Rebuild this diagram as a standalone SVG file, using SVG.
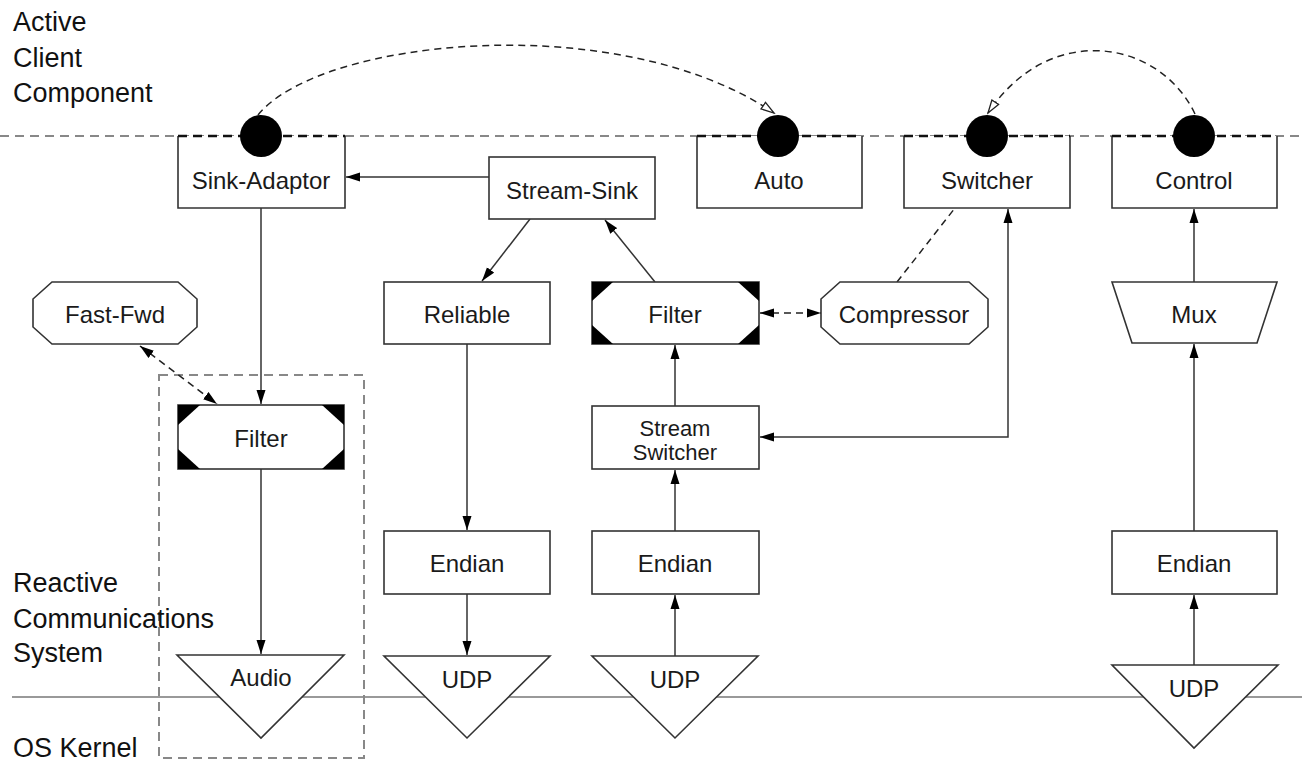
<svg xmlns="http://www.w3.org/2000/svg" width="1302" height="765" viewBox="0 0 1302 765">
<style>
  .bg { fill: #ffffff; }
  .box { fill: #ffffff; stroke: #333333; stroke-width: 1.6; }
  .lbl { font-family: "Liberation Sans", Arial, sans-serif; font-size: 24px; fill: #1a1a1a; text-anchor: middle; }
  .lbl2 { font-family: "Liberation Sans", Arial, sans-serif; font-size: 22px; fill: #1a1a1a; text-anchor: middle; }
  .side { font-family: "Liberation Sans", Arial, sans-serif; font-size: 27px; fill: #111111; }
  .conn { fill: none; stroke: #333333; stroke-width: 1.5; }
  .dash { fill: none; stroke: #222222; stroke-width: 1.5; stroke-dasharray: 7 5; }
  .layer-dash { fill: none; stroke: #888888; stroke-width: 2; stroke-dasharray: 9 6; }
  .layer { fill: none; stroke: #999999; stroke-width: 2; }
  .corner { fill: #000000; }
  .port { fill: #000000; }
  .topdash { stroke: #111111; stroke-width: 2.5; stroke-dasharray: 9 6; }
</style>
<defs>
  <marker id="arr" markerUnits="userSpaceOnUse" markerWidth="15" markerHeight="10" refX="14" refY="4.5" orient="auto-start-reverse" viewBox="0 0 15 9">
    <path d="M0,0 L14,4.5 L0,9 z" fill="#000000"/>
  </marker>
  <marker id="open" markerUnits="userSpaceOnUse" markerWidth="16" markerHeight="12" refX="14" refY="5" orient="auto" viewBox="0 0 16 10">
    <path d="M1,1 L14,5 L1,9 z" fill="#ffffff" stroke="#222222" stroke-width="1.3"/>
  </marker>
</defs>
<rect class="bg" x="0" y="0" width="1302" height="765"/>

<!-- layer lines and labels -->
<g id="layers">
  <line class="layer-dash" x1="0" y1="136" x2="1302" y2="136"/>
  <line class="layer" x1="12" y1="697" x2="1302" y2="697"/>
  <rect class="layer-dash" x="159" y="375" width="205" height="383"/>
  <text class="side" x="13" y="31">Active</text>
  <text class="side" x="13" y="67">Client</text>
  <text class="side" x="13" y="102">Component</text>
  <text class="side" x="13" y="592">Reactive</text>
  <text class="side" x="13" y="628">Communications</text>
  <text class="side" x="13" y="662">System</text>
  <text class="side" x="13" y="757">OS Kernel</text>
</g>

<!-- connectors -->
<g id="connectors">
  <path class="conn" d="M489 177 H346" marker-end="url(#arr)"/>
  <path class="conn" d="M261 208 V404" marker-end="url(#arr)"/>
  <path class="conn" d="M261 469 V654" marker-end="url(#arr)"/>
  <path class="dash" d="M140 346 L217 404" marker-start="url(#arr)" marker-end="url(#arr)"/>
  <path class="conn" d="M530 219 L482 281" marker-end="url(#arr)"/>
  <path class="conn" d="M655 282 L605 220" marker-end="url(#arr)"/>
  <path class="conn" d="M467 344 V530" marker-end="url(#arr)"/>
  <path class="conn" d="M467 594 V655" marker-end="url(#arr)"/>
  <path class="conn" d="M675 656 V595" marker-end="url(#arr)"/>
  <path class="conn" d="M675 531 V470" marker-end="url(#arr)"/>
  <path class="conn" d="M675 406 V345" marker-end="url(#arr)"/>
  <path class="dash" d="M760 313 H821" marker-start="url(#arr)" marker-end="url(#arr)"/>
  <path class="dash" d="M897 282 L955 208"/>
  <path class="conn" d="M760 437 H1008 V209" marker-start="url(#arr)" marker-end="url(#arr)"/>
  <path class="conn" d="M1194 531 V344" marker-end="url(#arr)"/>
  <path class="conn" d="M1194 282 V209" marker-end="url(#arr)"/>
  <path class="conn" d="M1194 665 V595" marker-end="url(#arr)"/>
  <path class="dash" d="M258 115 C320 38 620 8 774 113" marker-end="url(#open)"/>
  <path class="dash" d="M1195 114 C1160 40 1050 20 988 113" marker-end="url(#open)"/>
</g>

<!-- active components -->
<g id="sink-adaptor">
  <path class="box" d="M178 136 V208 H345 V136"/>
  <line class="topdash" x1="178" y1="136" x2="345" y2="136"/>
  <circle class="port" cx="261" cy="136" r="21"/>
  <text class="lbl" x="261" y="189">Sink-Adaptor</text>
</g>
<g id="auto">
  <path class="box" d="M697 136 V208 H862 V136"/>
  <line class="topdash" x1="697" y1="136" x2="862" y2="136"/>
  <circle class="port" cx="778" cy="136" r="21"/>
  <text class="lbl" x="779" y="189">Auto</text>
</g>
<g id="switcher">
  <path class="box" d="M904 136 V208 H1070 V136"/>
  <line class="topdash" x1="904" y1="136" x2="1070" y2="136"/>
  <circle class="port" cx="987" cy="136" r="21"/>
  <text class="lbl" x="987" y="189">Switcher</text>
</g>
<g id="control">
  <path class="box" d="M1112 136 V208 H1277 V136"/>
  <line class="topdash" x1="1112" y1="136" x2="1277" y2="136"/>
  <circle class="port" cx="1194" cy="136" r="21"/>
  <text class="lbl" x="1194" y="189">Control</text>
</g>

<g id="stream-sink">
  <rect class="box" x="489" y="157" width="166" height="62"/>
  <text class="lbl" x="572" y="199">Stream-Sink</text>
</g>

<g id="fast-fwd">
  <polygon class="box" points="52,282 178,282 197,299 197,327 178,344 52,344 33,327 33,299"/>
  <text class="lbl" x="115" y="323">Fast-Fwd</text>
</g>
<g id="reliable">
  <rect class="box" x="384" y="282" width="166" height="62"/>
  <text class="lbl" x="467" y="323">Reliable</text>
</g>
<g id="filter-mid">
  <rect class="box" x="592" y="282" width="167" height="62"/>
  <polygon class="corner" points="592,282 613,282 592,301"/>
  <polygon class="corner" points="759,282 738,282 759,301"/>
  <polygon class="corner" points="592,344 613,344 592,325"/>
  <polygon class="corner" points="759,344 738,344 759,325"/>
  <text class="lbl" x="675" y="323">Filter</text>
</g>
<g id="compressor">
  <polygon class="box" points="840,282 969,282 988,299 988,327 969,344 840,344 821,327 821,299"/>
  <text class="lbl" x="904" y="323">Compressor</text>
</g>
<g id="mux">
  <polygon class="box" points="1112,282 1277,282 1257,343 1132,343"/>
  <text class="lbl" x="1194" y="323">Mux</text>
</g>

<g id="filter-left">
  <rect class="box" x="178" y="405" width="166" height="64"/>
  <polygon class="corner" points="178,405 200,405 178,425"/>
  <polygon class="corner" points="344,405 322,405 344,425"/>
  <polygon class="corner" points="178,469 200,469 178,449"/>
  <polygon class="corner" points="344,469 322,469 344,449"/>
  <text class="lbl" x="261" y="447">Filter</text>
</g>
<g id="stream-switcher">
  <rect class="box" x="592" y="406" width="167" height="63"/>
  <text class="lbl2" x="675" y="436">Stream</text>
  <text class="lbl2" x="675" y="460">Switcher</text>
</g>

<g id="endian-1">
  <rect class="box" x="384" y="531" width="166" height="63"/>
  <text class="lbl" x="467" y="572">Endian</text>
</g>
<g id="endian-2">
  <rect class="box" x="592" y="531" width="167" height="63"/>
  <text class="lbl" x="675" y="572">Endian</text>
</g>
<g id="endian-3">
  <rect class="box" x="1112" y="531" width="165" height="63"/>
  <text class="lbl" x="1194" y="572">Endian</text>
</g>

<g id="audio">
  <polygon class="box" points="177,655 344,655 261,738"/>
  <text class="lbl" x="261" y="686">Audio</text>
</g>
<g id="udp-1">
  <polygon class="box" points="384,656 550,656 467,738"/>
  <text class="lbl" x="467" y="688">UDP</text>
</g>
<g id="udp-2">
  <polygon class="box" points="592,656 758,656 675,738"/>
  <text class="lbl" x="675" y="688">UDP</text>
</g>
<g id="udp-3">
  <polygon class="box" points="1112,665 1278,665 1194,748"/>
  <text class="lbl" x="1194" y="697">UDP</text>
</g>
</svg>
